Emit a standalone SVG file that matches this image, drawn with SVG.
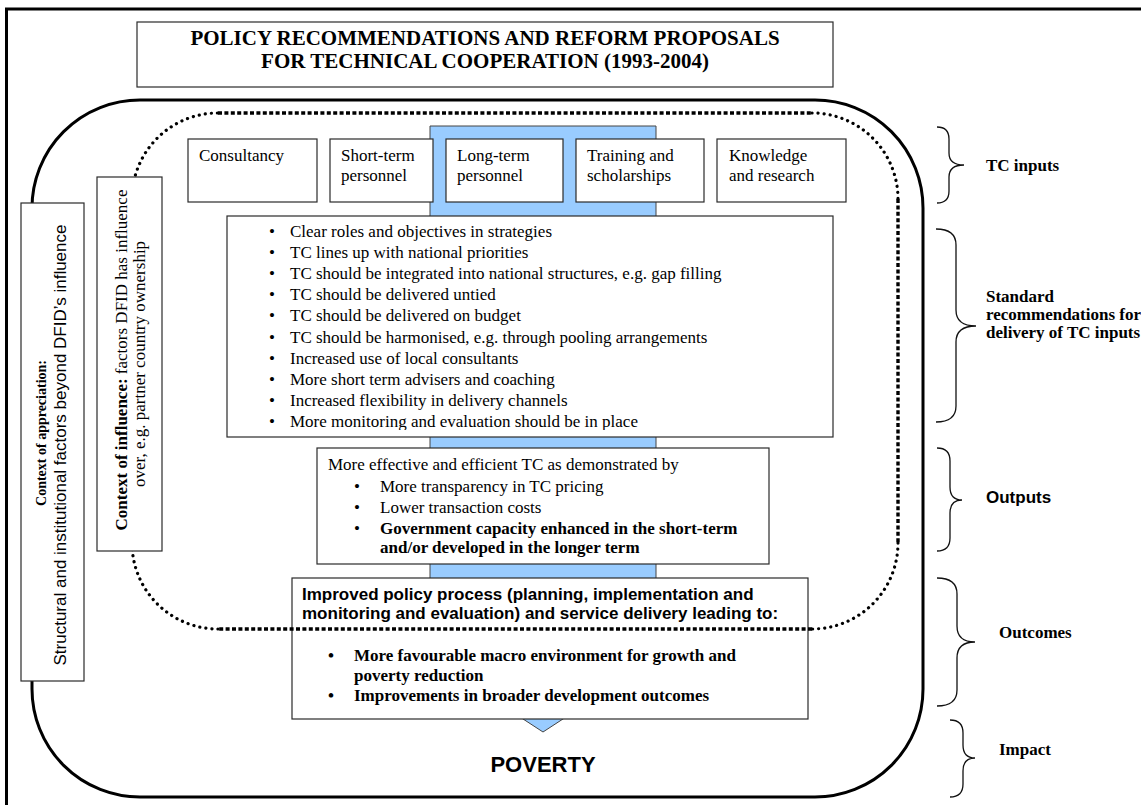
<svg xmlns="http://www.w3.org/2000/svg" width="1141" height="805" viewBox="0 0 1141 805">
  <style>
    .serif { font-family: "Liberation Serif", "Times New Roman", serif; font-size: 17px; fill: #000; }
    .sans { font-family: "Liberation Sans", Arial, sans-serif; font-size: 17px; fill: #000; }
    .b { font-weight: bold; }
    .box { fill: #fff; stroke: #2a2a2a; stroke-width: 1.2; }
    .brace { fill: none; stroke: #111; stroke-width: 1.3; }
    .lbl { font-family: "Liberation Serif", "Times New Roman", serif; font-size: 17px; font-weight: bold; fill: #000; }
    .dash { fill: none; stroke: #000; stroke-width: 3.4; stroke-dasharray: 4 2.4; }
    .dots { fill: none; stroke: #000; stroke-width: 3.2; stroke-linecap: round; stroke-dasharray: 0.1 6; }
  </style>
  <defs>
    <clipPath id="recClip">
      <rect x="225" y="215" width="608" height="215"/>
    </clipPath>
  </defs>

  <rect x="0" y="0" width="1141" height="805" fill="#fff"/>

  <!-- page border, runs off the right and bottom edges -->
  <path d="M 6.5 810 V 9 H 1150" fill="none" stroke="#000" stroke-width="3"/>

  <!-- solid outer rounded frame -->
  <rect id="frame-solid" x="32" y="100" width="891" height="697" rx="108" ry="108" fill="none" stroke="#000" stroke-width="3"/>

  <!-- title -->
  <g id="title">
    <rect class="box" x="137" y="22" width="696" height="65"/>
    <text class="serif b" x="485" y="45" text-anchor="middle" style="font-size:21px">POLICY RECOMMENDATIONS AND REFORM PROPOSALS</text>
    <text class="serif b" x="485" y="68" text-anchor="middle" style="font-size:21px">FOR TECHNICAL COOPERATION (1993-2004)</text>
  </g>

  <!-- main flow arrow running down through the boxes -->
  <g id="connectors">
    <polygon points="430,126 656,126 656,644 678,644 543,732 408,644 430,644" fill="#99ccff" stroke="#444" stroke-width="1"/>
  </g>

  <!-- TC inputs -->
  <g id="input-consultancy">
    <rect class="box" x="188" y="139" width="129" height="63"/>
    <text class="serif" x="199" y="161">Consultancy</text>
  </g>
  <g id="input-short-term">
    <rect class="box" x="330" y="139" width="103" height="63"/>
    <text class="serif" x="341" y="161">Short-term</text>
    <text class="serif" x="341" y="181">personnel</text>
  </g>
  <g id="input-long-term">
    <rect class="box" x="446" y="139" width="117" height="63"/>
    <text class="serif" x="457" y="161">Long-term</text>
    <text class="serif" x="457" y="181">personnel</text>
  </g>
  <g id="input-training">
    <rect class="box" x="576" y="139" width="128" height="63"/>
    <text class="serif" x="587" y="161">Training and</text>
    <text class="serif" x="587" y="181">scholarships</text>
  </g>
  <g id="input-knowledge">
    <rect class="box" x="717" y="139" width="129" height="63"/>
    <text class="serif" x="729" y="161">Knowledge</text>
    <text class="serif" x="729" y="181">and research</text>
  </g>

  <!-- standard recommendations -->
  <g id="recommendations">
    <rect class="box" x="227" y="216" width="606" height="221"/>
    <g clip-path="url(#recClip)">
      <g class="serif">
        <text x="269" y="237">•</text><text x="290" y="237">Clear roles and objectives in strategies</text>
        <text x="269" y="258">•</text><text x="290" y="258">TC lines up with national priorities</text>
        <text x="269" y="279">•</text><text x="290" y="279">TC should be integrated into national structures, e.g. gap filling</text>
        <text x="269" y="300">•</text><text x="290" y="300">TC should be delivered untied</text>
        <text x="269" y="321">•</text><text x="290" y="321">TC should be delivered on budget</text>
        <text x="269" y="343">•</text><text x="290" y="343">TC should be harmonised, e.g. through pooling arrangements</text>
        <text x="269" y="364">•</text><text x="290" y="364">Increased use of local consultants</text>
        <text x="269" y="385">•</text><text x="290" y="385">More short term advisers and coaching</text>
        <text x="269" y="406">•</text><text x="290" y="406">Increased flexibility in delivery channels</text>
        <text x="269" y="427">•</text><text x="290" y="427">More monitoring and evaluation should be in place</text>
      </g>
    </g>
  </g>

  <!-- outputs -->
  <g id="outputs">
    <rect class="box" x="317" y="448" width="452" height="116"/>
    <g class="serif">
      <text x="328" y="470">More effective and efficient TC as demonstrated by</text>
      <text x="354" y="491.5">•</text><text x="380" y="491.5">More transparency in TC pricing</text>
      <text x="354" y="512.5">•</text><text x="380" y="512.5">Lower transaction costs</text>
      <text x="354" y="534">•</text><text x="380" y="534" font-weight="bold">Government capacity enhanced in the short-term</text>
      <text x="380" y="553" font-weight="bold">and/or developed in the longer term</text>
    </g>
  </g>

  <!-- outcomes -->
  <g id="outcomes">
    <rect class="box" x="292" y="578" width="516" height="141"/>
    <text class="sans b" x="302" y="600">Improved policy process (planning, implementation and</text>
    <text class="sans b" x="302" y="619">monitoring and evaluation) and service delivery leading to:</text>
    <g class="serif b">
      <text x="328" y="661">•</text><text x="354" y="661">More favourable macro environment for growth and</text>
      <text x="354" y="681">poverty reduction</text>
      <text x="328" y="701">•</text><text x="354" y="701">Improvements in broader development outcomes</text>
    </g>
  </g>

  <!-- dotted boundary of the context of influence: square dashes on the straight runs, round dots on the corners -->
  <g id="frame-dotted">
    <path class="dash" d="M218 113 H812 M898 199 V543 M812 629 H218 M132 543 V199"/>
    <path class="dots" d="M812 113 A86 86 0 0 1 898 199 M898 543 A86 86 0 0 1 812 629 M218 629 A86 86 0 0 1 132 543 M132 199 A86 86 0 0 1 218 113"/>
  </g>

  <!-- context boxes -->
  <g id="context-influence">
    <rect class="box" x="97" y="177" width="65" height="374"/>
    <text class="serif" transform="translate(126.5 360) rotate(-90)" text-anchor="middle"><tspan font-weight="bold">Context of influence:</tspan> factors DFID has influence</text>
    <text class="serif" transform="translate(144.5 364) rotate(-90)" text-anchor="middle">over, e.g. partner country ownership</text>
  </g>
  <g id="context-appreciation">
    <rect class="box" x="21" y="203" width="63" height="478"/>
    <text class="serif b" transform="translate(46 433) rotate(-90)" text-anchor="middle" style="font-size:14px">Context of appreciation:</text>
    <text class="sans" transform="translate(66 445) rotate(-90)" text-anchor="middle">Structural and institutional factors beyond DFID’s influence</text>
  </g>

  <!-- impact -->
  <g id="poverty">
    <text class="sans b" x="543" y="772" text-anchor="middle" style="font-size:22px">POVERTY</text>
  </g>

  <!-- level braces and labels -->
  <g id="level-tc-inputs">
    <path class="brace" d="M937 127 Q949 127 949 139 L949 153 Q949 165 964 165 Q949 165 949 177 L949 191 Q949 203 937 203"/>
    <text class="lbl" x="986" y="171">TC inputs</text>
  </g>
  <g id="level-standard">
    <path class="brace" d="M936 229 Q956 229 956 245 L956 310 Q956 326 976 326 Q956 326 956 342 L956 406 Q956 422 936 422"/>
    <text class="lbl" x="986" y="302">Standard</text>
    <text class="lbl" x="986" y="320">recommendations for</text>
    <text class="lbl" x="986" y="338">delivery of TC inputs</text>
  </g>
  <g id="level-outputs">
    <path class="brace" d="M937 448 Q950 448 950 461 L950 487 Q950 500 962 500 Q950 500 950 513 L950 538 Q950 551 937 551"/>
    <text class="sans b" x="986" y="503">Outputs</text>
  </g>
  <g id="level-outcomes">
    <path class="brace" d="M937 578 Q957 578 957 594 L957 626 Q957 642 975 642 Q957 642 957 658 L957 690 Q957 706 937 706"/>
    <text class="lbl" x="999" y="638">Outcomes</text>
  </g>
  <g id="level-impact">
    <path class="brace" d="M950 720 Q963 720 963 733 L963 745 Q963 758 975 758 Q963 758 963 771 L963 784 Q963 797 950 797"/>
    <text class="lbl" x="999" y="755">Impact</text>
  </g>
</svg>
